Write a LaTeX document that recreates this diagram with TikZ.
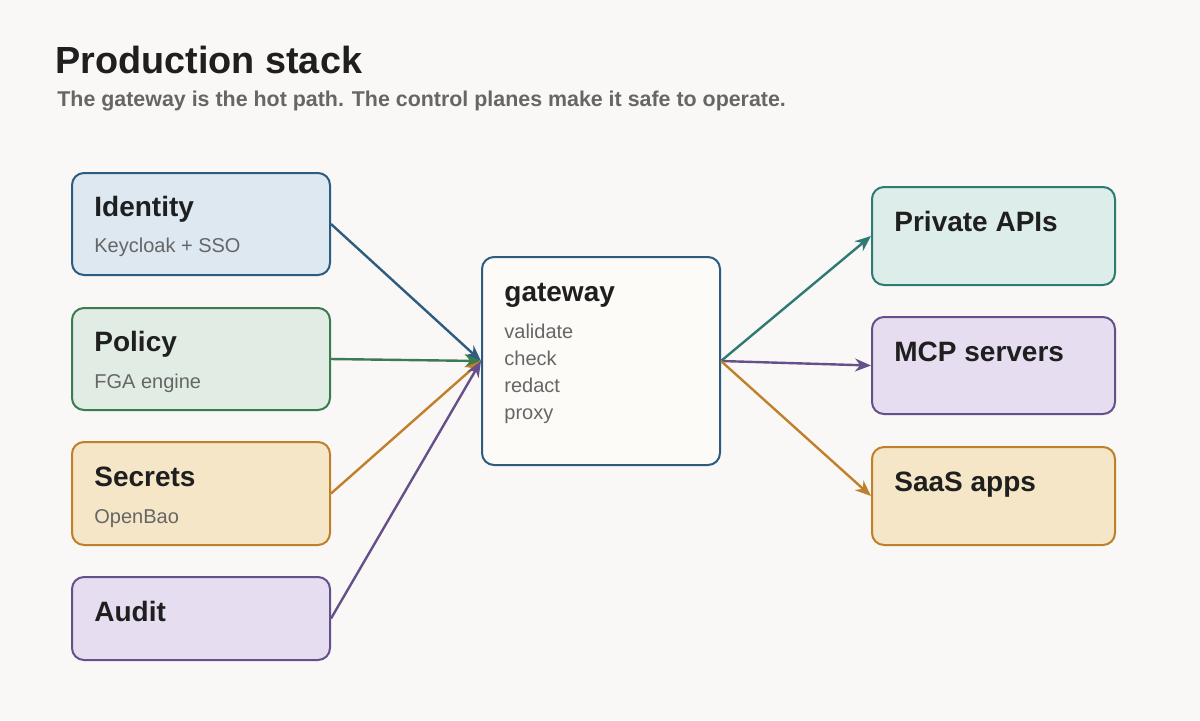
\documentclass[tikz,border=0pt]{standalone}
\usepackage{fontspec}
\setmainfont{Liberation Sans}
\usetikzlibrary{arrows.meta,positioning}
\definecolor{bgc}{HTML}{F9F8F6}
\definecolor{ink}{HTML}{1F1F1F}
\definecolor{muted}{HTML}{666666}
\definecolor{blueS}{HTML}{2E5C7E}\definecolor{blueF}{HTML}{DDE8F0}
\definecolor{greenS}{HTML}{3C7A50}\definecolor{greenF}{HTML}{E1EDE4}
\definecolor{orangeS}{HTML}{C07F2A}\definecolor{orangeF}{HTML}{F5E6C8}
\definecolor{purpleS}{HTML}{66508A}\definecolor{purpleF}{HTML}{E6DDF0}
\definecolor{tealS}{HTML}{2E7B72}\definecolor{tealF}{HTML}{DCEDEA}
\definecolor{gateF}{HTML}{FDFBF7}
\tikzset{
  box/.style 2 args={draw=#1, fill=#2, line width=1pt, rounded corners=6pt,
    anchor=north west, inner sep=0pt},
  head/.style={anchor=west, inner sep=0pt, text height=10pt, text depth=3pt,
    font=\bfseries\fontsize{14}{16}\selectfont, text=ink},
  sub/.style={anchor=west, inner sep=0pt, text height=7.5pt, text depth=2pt,
    font=\fontsize{10}{12}\selectfont, text=muted},
  link/.style={draw=#1, line width=1.2pt, -{Stealth[length=8pt,width=6.5pt]}}
}
\begin{document}
\begin{tikzpicture}[x=0.5pt,y=-0.5pt]
  \fill[bgc] (0,0) rectangle (1200,720);
  \useasboundingbox (0,0) rectangle (1200,720);

  \node[anchor=west, inner sep=0pt, font=\bfseries\fontsize{18.9}{22}\selectfont, text=ink] (title) at (55,60) {Production stack};
  \node[anchor=west, inner sep=0pt, font=\bfseries\fontsize{10.7}{13}\selectfont, text=muted] (subtitle) at (57,101) {The gateway is the hot path. The control planes make it safe to operate.};

  % control planes
  \node[box={blueS}{blueF}, minimum width=129pt, minimum height=51pt] (id) at (71,172) {};
  \node[box={greenS}{greenF}, minimum width=129pt, minimum height=51pt] (pol) at (71,307) {};
  \node[box={orangeS}{orangeF}, minimum width=129pt, minimum height=51.5pt] (sec) at (71,441) {};
  \node[box={purpleS}{purpleF}, minimum width=129pt, minimum height=41.5pt] (aud) at (71,576) {};
  \node[head] at (94,209) {Identity};
  \node[sub] at (94,247) {Keycloak + SSO};
  \node[head] at (94,344) {Policy};
  \node[sub] at (94,383) {FGA engine};
  \node[head] at (94,479) {Secrets};
  \node[sub] at (94,518) {OpenBao};
  \node[head] at (94,614) {Audit};

  % gateway
  \node[box={blueS}{gateF}, minimum width=119pt, minimum height=104pt] (gw) at (481,256) {};
  \node[head] at (504,294) {gateway};
  \node[sub] at (504,333) {validate};
  \node[sub] at (504,360) {check};
  \node[sub] at (504,387) {redact};
  \node[sub] at (504,414) {proxy};

  % upstreams
  \node[box={tealS}{tealF}, minimum width=121.5pt, minimum height=49pt] (api) at (871,186) {};
  \node[box={purpleS}{purpleF}, minimum width=121.5pt, minimum height=48.5pt] (mcp) at (871,316) {};
  \node[box={orangeS}{orangeF}, minimum width=121.5pt, minimum height=49pt] (saas) at (871,446) {};
  \node[head] at (894,224) {Private APIs};
  \node[head] at (894,354) {MCP servers};
  \node[head] at (894,484) {SaaS apps};

  \draw[link=blueS] (id.east) -- (gw.west);
  \draw[link=greenS] (pol.east) -- (gw.west);
  \draw[link=orangeS] (sec.east) -- (gw.west);
  \draw[link=purpleS] (aud.east) -- (gw.west);
  \draw[link=tealS] (gw.east) -- (api.west);
  \draw[link=purpleS] (gw.east) -- (mcp.west);
  \draw[link=orangeS] (gw.east) -- (saas.west);
\end{tikzpicture}
\end{document}
